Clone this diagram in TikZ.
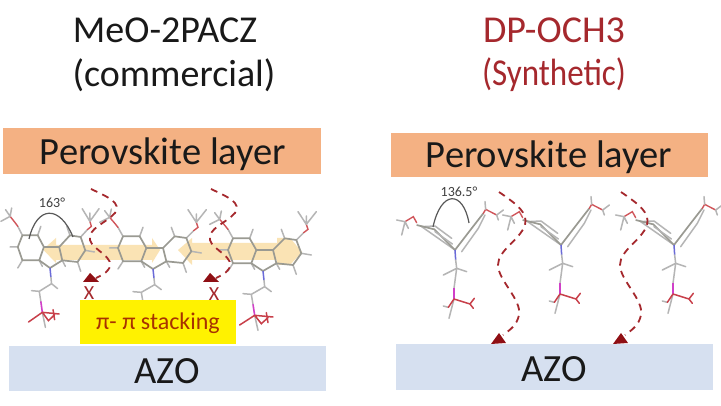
\documentclass[tikz,border=0pt]{standalone}
\usepackage{fontspec}
\setmainfont{Carlito}
\usetikzlibrary{arrows.meta,shapes.arrows}
\definecolor{perov}{HTML}{F4B183}
\definecolor{azo}{HTML}{D6E0F0}
\definecolor{dred}{HTML}{A5282D}
\definecolor{head}{HTML}{8F0F14}
\definecolor{bondc}{HTML}{B5B5B5}
\definecolor{ringc}{HTML}{9A9A92}
\definecolor{shade}{HTML}{FAE3B4}
\definecolor{oxyc}{HTML}{D0555A}
\definecolor{redbc}{HTML}{C8404A}
\definecolor{phosc}{HTML}{D040C8}
\definecolor{nitc}{HTML}{6A6AD8}
\definecolor{pitext}{HTML}{A83200}
\tikzset{
  layerbox/.style={minimum height=#1,inner sep=0pt,anchor=north west},
  bond/.style={draw=bondc,line width=1.5pt,line cap=round,line join=round},
  ringb/.style={draw=ringc,line width=1.7pt,line join=round},
  oxy/.style={draw=oxyc,line width=1.4pt,line cap=round},
  nit/.style={draw=nitc,line width=1.5pt},
  phos/.style={draw=phosc,line width=1.6pt},
  redb/.style={draw=redbc,line width=1.5pt,line cap=round},
  route/.style={draw=dred,line width=1.8pt,dash pattern=on 7pt off 5.5pt},
  arc/.style={draw=black!65,line width=1.2pt},
  shadearrow/.style={fill=shade,draw=none},
  lay/.style={font=\fontsize{38.5}{38.5}\selectfont,text=black!90},
  ttl/.style={font=\fontsize{38}{38}\selectfont},
  xmark/.style={font=\fontsize{20}{20}\selectfont,text=dred},
  ang/.style={font=\fontsize{14}{14}\selectfont,text=black!75}
}
% flat carbazole molecule, N at origin, zoomed units
\newcommand{\flatmol}[3]{%
\begin{scope}[shift={(#1,#2)},xscale=#3/3,yscale=1/3]
 \draw[bond] (-90,-98)--(-105,-125) (-40,-98)--(-30,-125) (65,-98)--(55,-125) (100,-93)--(122,-115)
   (115,-53)--(145,-48) (90,-18)--(100,10) (40,-23)--(50,-5) (-90,-23)--(-105,0) (-35,-23)--(-25,-5) (-105,-63)--(-130,-63);
 \draw[ringb] (-90,-98)--(-40,-98)--(-20,-63)--(-35,-23)--(-90,-23)--(-105,-63)--cycle;
 \draw[ringb] (30,-63)--(65,-98)--(100,-93)--(115,-53)--(90,-18)--(40,-23)--cycle;
 \draw[ringb] (-20,-63)--(30,-63) (40,-23)--(0,0)--(-35,-23);
 \draw[oxy] (-105,-125)--(-113,-135)--(-130,-155);
 \draw[bond] (-130,-155)--(-145,-175) (-130,-155)--(-160,-140) (-130,-155)--(-125,-180);
 \draw[oxy] (122,-115)--(135,-125)--(130,-140);
 \draw[bond] (130,-140)--(105,-178) (130,-140)--(160,-178) (130,-165)--(130,-140);
 \draw[nit] (0,0)--(3,28);
 \draw[bond] (3,28)--(5,47)--(25,62) (5,47)--(-35,70)--(-60,68) (-35,70)--(-30,100);
 \draw[bond] (-25,133)--(-15,178);
 \draw[phos] (-30,100)--(-25,133);
 \draw[redb] (-25,133)--(-70,162) (-25,133)--(30,138) (-25,133)--(-5,158)--(15,140) (10,125)--(15,155);
\end{scope}}
% V-shaped molecule, N at origin
\newcommand{\vmol}[2]{%
\begin{scope}[shift={(#1,#2)},scale=1/3]
 \draw[bond] (0,0)--(-100,-70)--(-60,-72)--(-10,-35);
 \draw[ringb] (0,0)--(-62,-62)--(-115,-75);
 \draw[ringb] (0,0)--(50,-65)--(85,-110);
 \draw[bond] (20,5)--(70,-65)--(90,-105) (-8,-18)--(-60,-55);
 \draw[oxy] (-115,-82)--(-125,-100)--(-150,-85);
 \draw[bond] (-150,-85)--(-175,-90) (-150,-85)--(-140,-65) (-150,-85)--(-160,-45);
 \draw[oxy] (85,-110)--(92,-122)--(125,-105);
 \draw[bond] (92,-122)--(90,-145) (125,-105)--(130,-90) (125,-105)--(145,-120);
 \draw[nit] (0,0)--(2,30);
 \draw[bond] (2,30)--(5,55)--(35,65) (5,55)--(-35,75) (5,55)--(-3,115);
 \draw[bond] (-3,147)--(-18,205) (-20,172)--(-35,168);
 \draw[phos] (-3,115)--(-3,147);
 \draw[redb] (-3,147)--(45,162) (45,162)--(58,145) (45,162)--(55,175) (-3,147)--(-20,172);
\end{scope}}
\begin{document}
\begin{tikzpicture}[x=1pt,y=-1pt]
\useasboundingbox (0,0) rectangle (721,406);
\fill[white] (0,0) rectangle (721,406);
% layer boxes
\node[layerbox=46pt,minimum width=318pt,fill=perov] (pl) at (3,128) {};
\node[layerbox=44pt,minimum width=317pt,fill=perov] (pr) at (391,133) {};
\node[layerbox=45pt,minimum width=317pt,fill=azo] (al) at (9,346) {};
\node[layerbox=46pt,minimum width=317pt,fill=azo] (ar) at (396,344) {};
\node[lay] (plt) at (163,154) {Perovskite layer};
\node[lay] (prt) at (549,157) {Perovskite layer};
\node[lay] (alt) at (167,371) {AZO};
\node[lay] (art) at (554,369) {AZO};
% titles
\node[ttl,text=black!90] (t1) at (165,30) {MeO-2PACZ};
\node[ttl,text=black!90] (t1b) at (174,75) {(commercial)};
\node[ttl,text=dred] (t2) at (554,30) {DP-OCH3};
\node[ttl,text=dred,xscale=.87,transform shape] (t2b) at (554,75) {(Synthetic)};
% pi stacking shading
\fill[shadearrow] (43,249.5)--(56,238)--(56,245)--(152,245)--(152,238)--(160,250)--(152,263)--(152,260)--(56,260)--(56,263)--cycle;
\fill[shadearrow] (178,250)--(192,238)--(192,243)--(277,243)--(277,238)--(290,238)--(302,252)--(290,265)--(277,265)--(277,260)--(192,260)--(192,265)--cycle;
% molecules
\flatmol{50}{268}{0.92}
\flatmol{153}{269}{1}
\flatmol{263}{271}{1}
\vmol{455}{250}
\vmol{561}{245}
\vmol{674}{245}
% yellow box
\node[layerbox=44pt,minimum width=156pt,fill=yellow] (py) at (80,300) {};
\node[font=\fontsize{24}{24}\selectfont,text=pitext] (pyt) at (158,323) {π- π stacking};
% angles
\draw[arc] (29,239) .. controls (37,205) and (60,205) .. (73,237);
\node[ang] (a1) at (52,203) {163°};
\draw[arc] (433,227) .. controls (441,190) and (463,190) .. (469,223);
\node[ang] (a2) at (459,192) {136.5°};
% dashed routes, left
\coordinate (r1a) at (91,189);
\coordinate (r1b) at (96,278);
\coordinate (r2a) at (211,189);
\coordinate (r2b) at (216,278);
\draw[route] (r1a) .. controls (108,197) and (122,203) .. (115,213) .. controls (105,224) and (88,228) .. (90,240) .. controls (92,250) and (118,258) .. (108,270) .. controls (105,274) and (100,276) .. (r1b);
\draw[route] (r2a) .. controls (228,197) and (242,203) .. (235,213) .. controls (225,224) and (208,228) .. (210,240) .. controls (212,250) and (238,258) .. (228,270) .. controls (225,274) and (220,276) .. (r2b);
\fill[head] (83,282)--(90,273)--(99,282)--cycle;
\fill[head] (203,282)--(210,273)--(219,282)--cycle;
\node[xmark] (x1) at (89,293) {X};
\node[xmark] (x2) at (214,294) {X};
% dashed routes, right
\coordinate (r3a) at (499,192);
\coordinate (r3b) at (503,335);
\coordinate (r4a) at (621,192);
\coordinate (r4b) at (625,335);
\draw[route] (r3a) .. controls (518,205) and (528,213) .. (525,225) .. controls (520,240) and (498,250) .. (498,265) .. controls (498,280) and (522,300) .. (519,315) .. controls (517,325) and (510,330) .. (r3b);
\draw[route] (r4a) .. controls (640,205) and (650,213) .. (647,225) .. controls (642,240) and (620,250) .. (620,265) .. controls (620,280) and (644,300) .. (641,315) .. controls (639,325) and (632,330) .. (r4b);
\fill[head] (491,344)--(499,333)--(506,343)--cycle;
\fill[head] (613,344)--(621,333)--(628,343)--cycle;
\end{tikzpicture}
\end{document}
